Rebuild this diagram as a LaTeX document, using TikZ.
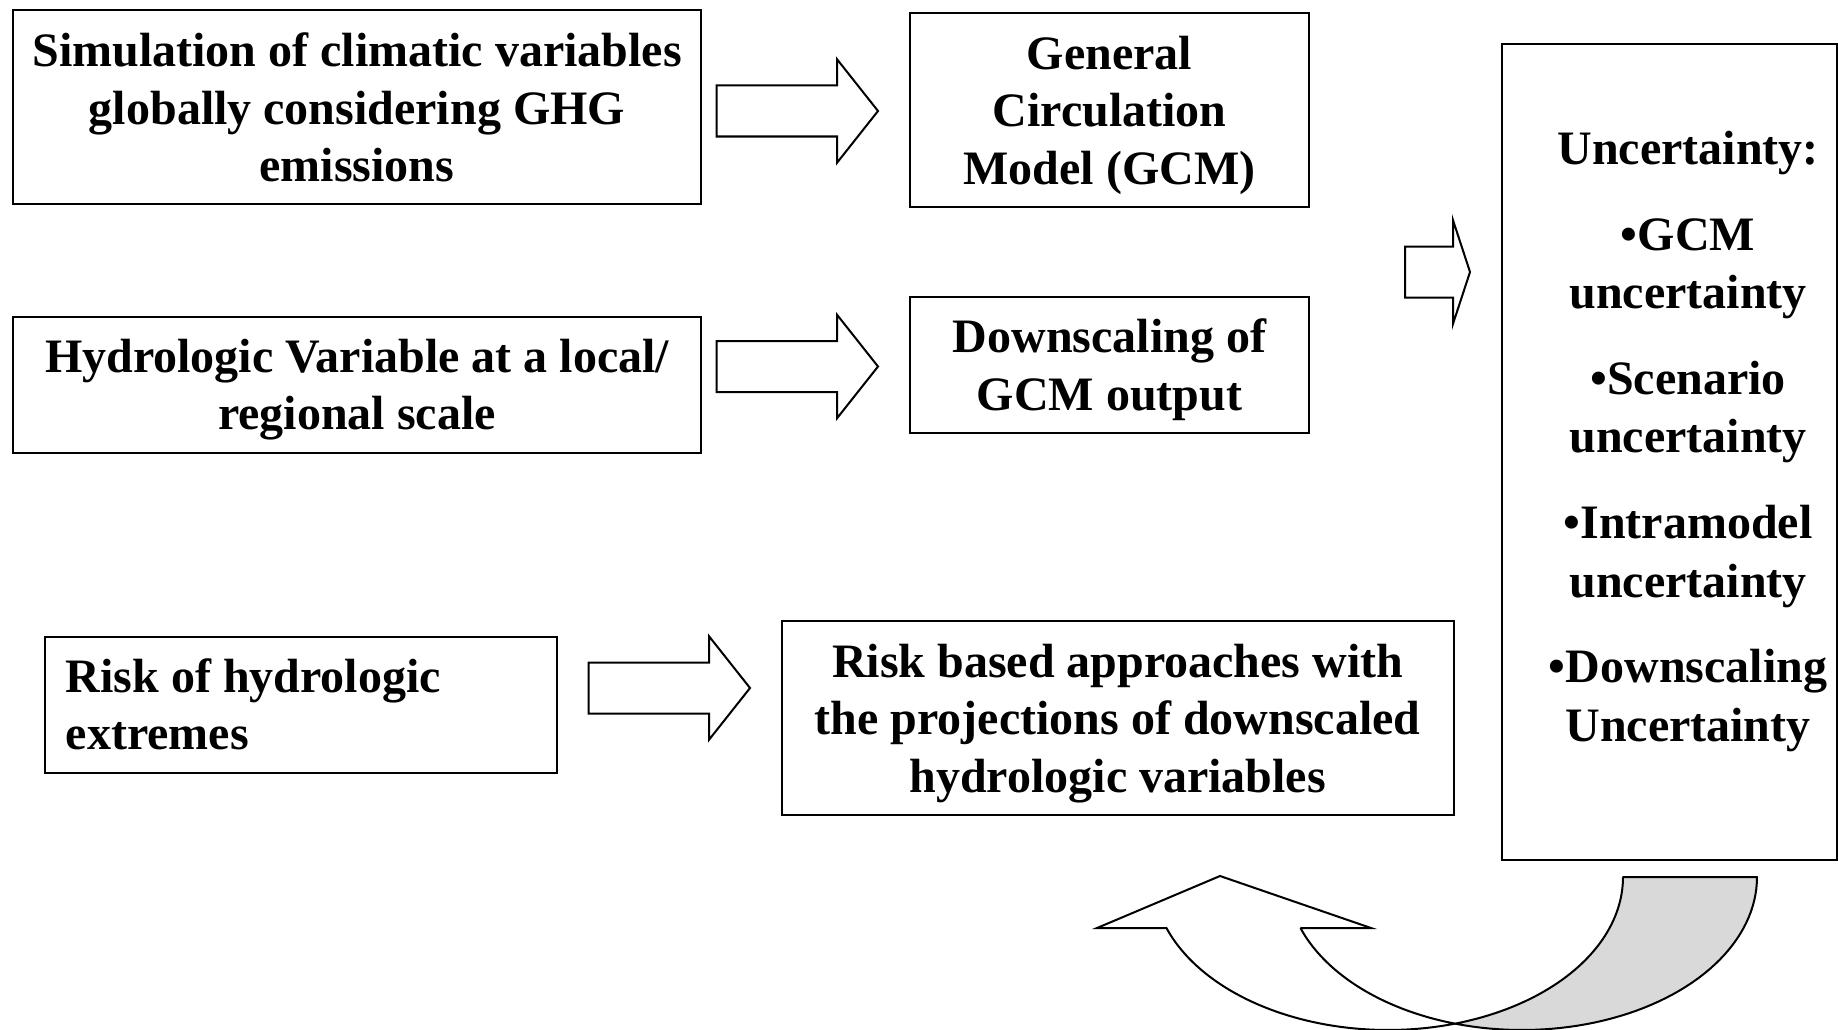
\documentclass[tikz,border=0pt]{standalone}
\usepackage{fontspec}
\setmainfont{Liberation Serif}
\definecolor{bandgrey}{RGB}{217,217,217}
\newcommand{\blockarr}[4]{%
  \draw[blockarrow] (#1,#3-25.5) -- (#2-#4,#3-25.5) -- (#2-#4,#3-51.8) -- (#2,#3)
     -- (#2-#4,#3+51.8) -- (#2-#4,#3+25.5) -- (#1,#3+25.5) -- cycle;}
\begin{document}
\begin{tikzpicture}[x=1pt,y=-1pt,
  box/.style={draw, line width=2pt, inner sep=0pt, align=center,
    font=\bfseries\fontsize{48}{57.4}\selectfont},
  cbox/.style={box, text depth=0pt},
  blockarrow/.style={draw, line width=2pt, fill=white, line join=miter}]
\useasboundingbox (0,0) rectangle (1838,1030);

\node[cbox, minimum width=688pt, minimum height=193.5pt] (sim) at (357,107.25)
  {Simulation of climatic variables\\globally considering GHG\\emissions};
\node[cbox, minimum width=399pt, minimum height=194pt] (gcm) at (1109.5,110)
  {General\\Circulation\\Model (GCM)};
\node[cbox, minimum width=688pt, minimum height=136pt] (hyd) at (357,384.5)
  {Hydrologic Variable at a local/\\regional scale};
\node[cbox, minimum width=399pt, minimum height=136pt] (down) at (1109.5,364.5)
  {Downscaling of\\GCM output};
\node[box, minimum width=512.5pt, minimum height=136pt, text width=470pt, align=flush left] (risk) at (300.75,704.5)
  {Risk of hydrologic\\extremes};
\node[cbox, minimum width=671.5pt, minimum height=194pt] (riskb) at (1117.75,718)
  {Risk based approaches with\\the projections of downscaled\\hydrologic variables};
\node[box, minimum width=335pt, minimum height=815.5pt] (unc) at (1669.5,452.25) {};
\node[align=center, inner sep=0pt, font=\bfseries\fontsize{48}{58.6}\selectfont] (unctext) at (1688,441.4)
  {Uncertainty:\\[27pt]\textbullet GCM\\uncertainty\\[27pt]\textbullet Scenario\\uncertainty\\[27pt]\textbullet Intramodel\\uncertainty\\[27pt]\textbullet Downscaling\\Uncertainty};

% block arrows
\blockarr{716.7}{878}{111}{41}
\blockarr{716.7}{878}{366.5}{41}
\blockarr{588.5}{750}{688}{41}
\blockarr{1405}{1470}{272}{17}

% curved up arrow: back band (grey)
\draw[line width=2pt, fill=bandgrey, line join=round]
  (1623,877) -- (1757,877)
  -- plot[domain=0:106.56, samples=50, variable=\t] ({1522+235*cos(\t)},{877+153*sin(\t)})
  -- plot[domain=73.44:0, samples=50, variable=\t] ({1388+235*cos(\t)},{877+153*sin(\t)})
  -- cycle;
% front band with head (white)
\draw[line width=2pt, fill=white, line join=miter]
  (1097,928) -- (1220,876) -- (1371,928) -- (1300.4,928)
  -- plot[domain=160.53:106.56, samples=50, variable=\t] ({1522+235*cos(\t)},{877+153*sin(\t)})
  -- plot[domain=73.44:160.53, samples=50, variable=\t] ({1388+235*cos(\t)},{877+153*sin(\t)})
  -- (1166.4,928) -- cycle;
\end{tikzpicture}
\end{document}
